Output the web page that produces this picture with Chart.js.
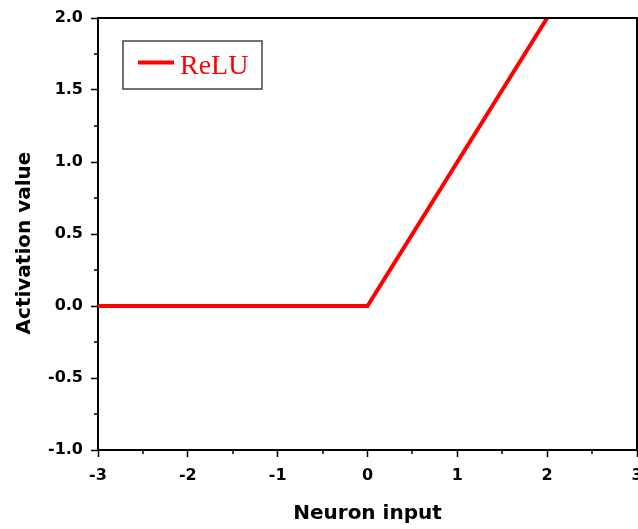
<!DOCTYPE html>
<html>
<head>
<meta charset="utf-8">
<script src="https://cdn.jsdelivr.net/npm/chart.js@4.4.0/dist/chart.umd.min.js"></script>
<style>
  html, body { margin: 0; padding: 0; background: #fff; overflow: hidden; }
</style>
</head>
<body>
<canvas id="grafico" width="638" height="529"></canvas>
<script>
// ReLU curve: neuron input -> activation
const entradas = [-3, -2, -1, 0, 1, 2];
const ativacoes = [0, 0, 0, 0, 1, 2];

// axis ranges and minor tick positions
const limitesX = [-3, 3];
const limitesY = [-1, 2];
const menoresX = [-2.5, -1.5, -0.5, 0.5, 1.5, 2.5];
const menoresY = [-0.75, -0.25, 0.25, 0.75, 1.25, 1.75];

const tituloY = "Activation value";

const fonteEixo = { family: "'DejaVu Sans', sans-serif", weight: "bold", size: 16 };
const fonteTitulo = { family: "'DejaVu Sans', sans-serif", weight: "bold", size: 20 };

// top/right frame lines, minor ticks, y title and the boxed legend
const moldura = {
  id: "moldura",
  afterDraw(chart) {
    const { ctx, chartArea: a, scales: { x, y } } = chart;
    ctx.save();
    ctx.strokeStyle = "#000";
    ctx.lineWidth = 2;
    ctx.beginPath();
    ctx.moveTo(a.left, a.top);
    ctx.lineTo(a.right, a.top);
    ctx.lineTo(a.right, a.bottom);
    ctx.stroke();

    ctx.lineWidth = 1.5;
    ctx.beginPath();
    menoresX.forEach(v => {
      const px = Math.round(x.getPixelForValue(v));
      ctx.moveTo(px, a.bottom);
      ctx.lineTo(px, a.bottom + 4);
    });
    menoresY.forEach(v => {
      const py = Math.round(y.getPixelForValue(v));
      ctx.moveTo(a.left, py);
      ctx.lineTo(a.left - 4, py);
    });
    ctx.stroke();

    // y axis title, sits a little below the middle of the axis
    ctx.save();
    ctx.translate(25, (a.top + a.bottom) / 2 + 9);
    ctx.rotate(-Math.PI / 2);
    ctx.fillStyle = "#000";
    ctx.font = "bold 20px 'DejaVu Sans', sans-serif";
    ctx.textAlign = "center";
    ctx.textBaseline = "middle";
    ctx.fillText(tituloY, 0, 0);
    ctx.restore();

    // legend
    const ds = chart.data.datasets[0];
    const lx = a.left + 25, ly = a.top + 23;
    ctx.fillStyle = "#fff";
    ctx.fillRect(lx, ly, 139, 48);
    ctx.strokeStyle = "#444";
    ctx.lineWidth = 1.5;
    ctx.strokeRect(lx, ly, 139, 48);
    ctx.strokeStyle = ds.borderColor;
    ctx.lineWidth = 4;
    ctx.beginPath();
    ctx.moveTo(lx + 15, ly + 21.5);
    ctx.lineTo(lx + 51, ly + 21.5);
    ctx.stroke();
    ctx.fillStyle = ds.borderColor;
    ctx.font = "28px 'Liberation Serif', 'Times New Roman', serif";
    ctx.textBaseline = "alphabetic";
    ctx.fillText(ds.label, lx + 57, ly + 33);
    ctx.restore();
  }
};

const ctx = document.getElementById("grafico").getContext("2d");

new Chart(ctx, {
  type: "line",
  data: {
    datasets: [{
      label: "ReLU",
      data: entradas.map((v, i) => ({ x: v, y: ativacoes[i] })),
      borderColor: "#ff0000",
      borderWidth: 4,
      pointRadius: 0,
      tension: 0,
      fill: false
    }]
  },
  options: {
    responsive: false,
    animation: false,
    layout: { padding: { top: 18, right: 1, bottom: 0, left: 0 } },
    plugins: {
      legend: { display: false },
      tooltip: { enabled: false }
    },
    scales: {
      x: {
        type: "linear",
        min: limitesX[0],
        max: limitesX[1],
        ticks: { stepSize: 1, color: "#000", font: fonteEixo, padding: 9 },
        grid: { drawOnChartArea: false, drawTicks: true, tickLength: 7, tickWidth: 1.5, tickColor: "#000" },
        border: { display: true, color: "#000", width: 2 },
        title: { display: true, text: "Neuron input", color: "#000", font: fonteTitulo, padding: { top: 0, bottom: 3 } },
        afterFit(scale) {
          scale.height = 79;
          scale.paddingLeft = 0;
          scale.paddingRight = 0;
        }
      },
      y: {
        type: "linear",
        min: limitesY[0],
        max: limitesY[1],
        ticks: {
          stepSize: 0.5, color: "#000", font: fonteEixo, padding: 8,
          callback: v => v.toFixed(1)
        },
        grid: { drawOnChartArea: false, drawTicks: true, tickLength: 7, tickWidth: 1.5, tickColor: "#000" },
        border: { display: true, color: "#000", width: 2 },
        afterFit(scale) {
          scale.width = 98;
          scale.paddingTop = 0;
          scale.paddingBottom = 0;
        }
      }
    }
  },
  plugins: [moldura]
});
</script>
</body>
</html>
